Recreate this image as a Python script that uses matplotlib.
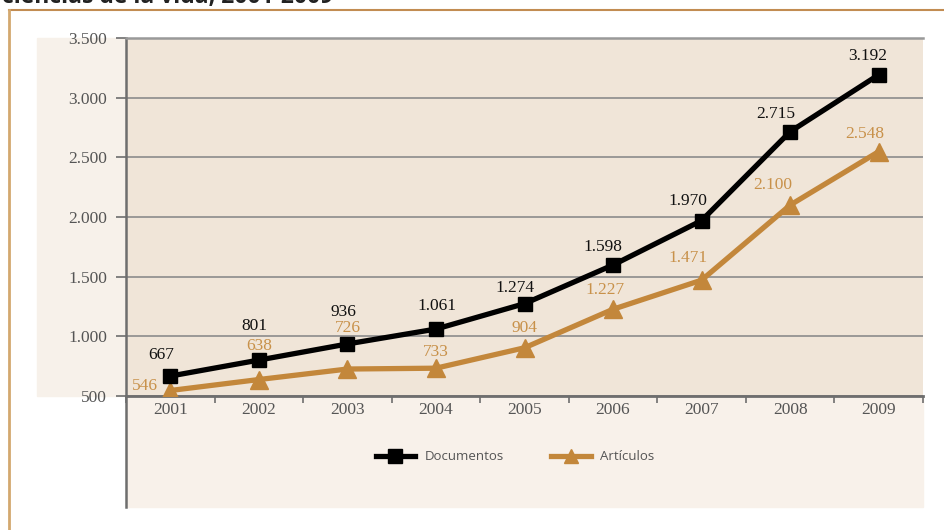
import matplotlib
matplotlib.use("Agg")
import matplotlib.pyplot as plt
from matplotlib.lines import Line2D
from matplotlib.patches import Rectangle

years = ["2001", "2002", "2003", "2004", "2005", "2006", "2007", "2008", "2009"]
documentos = [667, 801, 936, 1061, 1274, 1598, 1970, 2715, 3192]
articulos = [546, 638, 726, 733, 904, 1227, 1471, 2100, 2548]
y_ticks = [500, 1000, 1500, 2000, 2500, 3000, 3500]

# desplazamientos de las etiquetas en pixeles (dx, dy)
doc_offsets = [(-9, 21), (-4, 34), (-4, 32), (1, 23), (-9, 16), (-10, 18), (-14, 20), (-14, 18), (-11, 19)]
art_offsets = [(-25, 5), (0, 34), (0, 41), (0, 16), (0, 20), (-8, 19), (-14, 22), (-17, 20), (-14, 18)]

W, H = 944, 530
BLACK = "#000000"
GOLD = "#c3873b"
GOLD_TXT = "#c8914a"


def fx(px):
    return px / W


def fy(py):
    return 1 - py / H


def miles(v):
    return f"{v:,}".replace(",", ".")


fig = plt.figure(figsize=(W / 100, H / 100), dpi=100)
fig.patch.set_facecolor("white")

# fondos claros (detras de los ejes)
fig.add_artist(Rectangle((fx(37), fy(396)), fx(126) - fx(37), fy(38) - fy(396),
                         transform=fig.transFigure, color="#f7f1ea", zorder=-2))
fig.add_artist(Rectangle((fx(126), fy(507)), fx(923) - fx(126), fy(396) - fy(507),
                         transform=fig.transFigure, color="#f8f1ea", zorder=-2))

# marco
fig.add_artist(Line2D([fx(9), 1], [fy(9.5), fy(9.5)], color="#c28c52", lw=1.5, transform=fig.transFigure))
fig.add_artist(Line2D([fx(9), fx(9)], [fy(9.5), 0], color="#d3a86f", lw=2, transform=fig.transFigure))
fig.add_artist(Line2D([fx(126), fx(126)], [fy(396), fy(507)], color="#6e6e6e", lw=1.8,
                      transform=fig.transFigure))

fig.text(fx(2), fy(3.5), "ciencias de la vida, 2001-2009", fontsize=16.5, fontweight="bold",
         family="Open Sans", color="#222222", va="baseline", ha="left")

ax = fig.add_axes([fx(126), fy(396), fx(923) - fx(126), fy(38) - fy(396)])
ax.set_zorder(1)
ax.set_facecolor("#f0e5d8")
x = list(range(len(years)))

ax.plot(x, documentos, color=BLACK, lw=3.8, marker="s", markersize=10.5, label="Documentos", zorder=4)
ax.plot(x, articulos, color=GOLD, lw=3.8, marker="^", markersize=12.5, label="Artículos", zorder=3)

for i in x:
    dx, dy = doc_offsets[i]
    ax.annotate(miles(documentos[i]), (i, documentos[i]), xytext=(dx * 0.72, dy * 0.72),
                textcoords="offset points", ha="center", va="center", fontsize=12.5,
                family="Liberation Serif", color="#111111", zorder=5)
    dx, dy = art_offsets[i]
    ax.annotate(miles(articulos[i]), (i, articulos[i]), xytext=(dx * 0.72, dy * 0.72),
                textcoords="offset points", ha="center", va="center", fontsize=12.5,
                family="Liberation Serif", color=GOLD_TXT, zorder=5)

ax.set_xlim(-0.5, len(years) - 0.5)
ax.set_ylim(500, 3500)
ax.set_yticks(y_ticks)
ax.set_yticklabels([miles(v) for v in y_ticks], family="Liberation Serif", fontsize=12.5, color="#555555")
ax.set_xticks(x)
ax.set_xticklabels(years, family="Liberation Serif", fontsize=12.5, color="#555555")
ax.set_xticks([i + 0.5 for i in range(-1, len(years))], minor=True)
ax.tick_params(axis="x", which="major", length=0, pad=4)
ax.tick_params(axis="x", which="minor", length=5, width=1.2, color="#6e6e6e", direction="out")
ax.tick_params(axis="y", length=7.5, width=1.2, color="#6e6e6e", pad=6)

ax.grid(axis="y", color="#8c8c8c", lw=1.2, zorder=1)
ax.set_axisbelow(True)
ax.spines["right"].set_visible(False)
ax.spines["top"].set_color("#999999")
ax.spines["top"].set_linewidth(1.8)
ax.spines["left"].set_color("#6e6e6e")
ax.spines["left"].set_linewidth(1.8)
ax.spines["bottom"].set_color("#6e6e6e")
ax.spines["bottom"].set_linewidth(2)

leg = ax.legend(loc="center", bbox_to_anchor=(fx(515), fy(457)), bbox_transform=fig.transFigure,
                ncol=2, frameon=False, handlelength=3.0, handletextpad=0.7, columnspacing=3.6,
                numpoints=1, prop={"family": "Open Sans", "size": 9.5})
for t in leg.get_texts():
    t.set_color("#555555")
for h in leg.legend_handles:
    h.set_markersize(10)

fig.savefig("out.png", dpi=100)
